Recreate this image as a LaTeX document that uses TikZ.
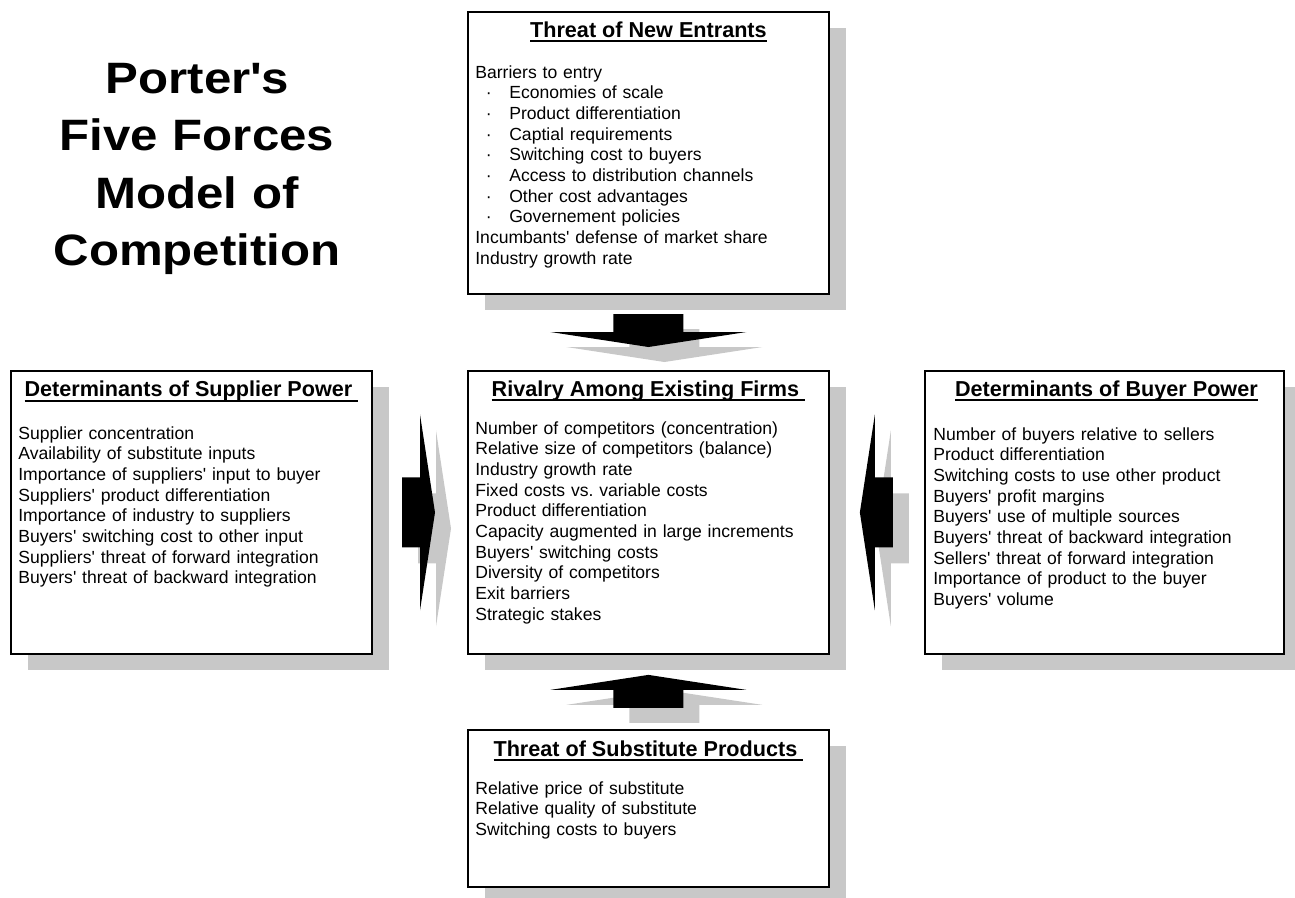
\documentclass[tikz,border=0pt]{standalone}
\usepackage{fontspec}
\setmainfont{Liberation Sans}
\newfontfamily\titlefont[FakeStretch=1.12]{Liberation Sans Bold}
\usetikzlibrary{calc,shadows}
\definecolor{shadowgray}{RGB}{200,200,200}
\frenchspacing
\newcommand{\headline}[1]{\setbox0\hbox{#1}\rlap{\rule[-3pt]{\wd0}{1.1pt}}\box0}
\newcommand{\itm}[1]{\hspace*{6pt}\textperiodcentered\hspace*{10pt}#1}
\newcommand{\prm}{\textquotesingle}
\tikzset{
  box/.style={draw, line width=1.1pt, fill=white, inner sep=0pt, anchor=north west,
    minimum width=7.22cm,
    drop shadow={shadow xshift=9.6pt, shadow yshift=-9.1pt, fill=shadowgray, opacity=1}},
  head/.style={anchor=base, inner sep=0pt, font=\fontsize{12.3}{14}\selectfont\bfseries},
  body/.style={anchor=north west, inner sep=0pt, text width=6.9cm, align=left,
    font=\fontsize{10}{11.76}\selectfont},
  force/.pic={
    \fill (0,0) -- (-98,-15) -- (-35,-15) -- (-35,-33) -- (35,-33) -- (35,-15) -- (98,-15) -- cycle;
  }
}

\begin{document}
\begin{tikzpicture}[x=0.02cm, y=-0.02cm]
  \useasboundingbox (0,0) rectangle (1295,897);

  % title
  \node[anchor=north, inner sep=0pt, text width=7cm, align=center,
        font=\titlefont\fontsize{25}{32.65}\selectfont] (ttl) at (197,53)
    {\strut Porter\prm s\\Five Forces\\Model of\\Competition};

  % the five boxes
  \node[box, minimum height=5.64cm] (ent) at (467,11) {};
  \node[box, minimum height=5.66cm] (sup) at (10,370) {};
  \node[box, minimum height=5.66cm] (riv) at (467,370) {};
  \node[box, minimum height=5.66cm, minimum width=7.18cm] (buy) at (924,370) {};
  \node[box, minimum height=3.14cm] (sub) at (467,729) {};

  % headings
  \node[head] (ent-h) at ($(ent.north)+(0,26)$) {\headline{Threat of New Entrants}};
  \node[head] (sup-h) at ($(sup.north)+(0,26.5)$) {\headline{Determinants of Supplier Power\ }};
  \node[head] (riv-h) at ($(riv.north)+(0,26)$) {\headline{Rivalry Among Existing Firms\ }};
  \node[head] (buy-h) at ($(buy.north)+(2,26)$) {\headline{Determinants of Buyer Power}};
  \node[head] (sub-h) at ($(sub.north)+(0,27)$) {\headline{Threat of Substitute Products\ }};

  % lists
  \node[body] (ent-b) at ($(ent.north west)+(8,52.5)$) {\strut Barriers to entry\\
    \itm{Economies of scale}\\
    \itm{Product differentiation}\\
    \itm{Captial requirements}\\
    \itm{Switching cost to buyers}\\
    \itm{Access to distribution channels}\\
    \itm{Other cost advantages}\\
    \itm{Governement policies}\\
    Incumbants\prm\ defense of market share\\
    Industry growth rate};
  \node[body] (sup-b) at ($(sup.north west)+(8,54.4)$) {\strut Supplier concentration\\
    Availability of substitute inputs\\
    Importance of suppliers\prm\ input to buyer\\
    Suppliers\prm\ product differentiation\\
    Importance of industry to suppliers\\
    Buyers\prm\ switching cost to other input\\
    Suppliers\prm\ threat of forward integration\\
    Buyers\prm\ threat of backward integration};
  \node[body] (riv-b) at ($(riv.north west)+(8,49.4)$) {\strut Number of competitors (concentration)\\
    Relative size of competitors (balance)\\
    Industry growth rate\\
    Fixed costs vs. variable costs\\
    Product differentiation\\
    Capacity augmented in large increments\\
    Buyers\prm\ switching costs\\
    Diversity of competitors\\
    Exit barriers\\
    Strategic stakes};
  \node[body] (buy-b) at ($(buy.north west)+(9,55.4)$) {\strut Number of buyers relative to sellers\\
    Product differentiation\\
    Switching costs to use other product\\
    Buyers\prm\ profit margins\\
    Buyers\prm\ use of multiple sources\\
    Buyers\prm\ threat of backward integration\\
    Sellers\prm\ threat of forward integration\\
    Importance of product to the buyer\\
    Buyers\prm\ volume};
  \node[body] (sub-b) at ($(sub.north west)+(8,50.4)$) {\strut Relative price of substitute\\
    Relative quality of substitute\\
    Switching costs to buyers};

  % force arrows into the rivalry box, shadows first
  \pic[shadowgray] at ($(riv.north)+(16,-8)$) {force};
  \pic[shadowgray, rotate=180] at ($(riv.south)+(16,35)$) {force};
  \pic[shadowgray, rotate=90] at ($(riv.west)+(-16,16)$) {force};
  \pic[shadowgray, rotate=-90] at ($(riv.east)+(46,16)$) {force};
  \pic at ($(riv.north)+(0,-23)$) {force};
  \pic[rotate=180] at ($(riv.south)+(0,20)$) {force};
  \pic[rotate=90] at ($(riv.west)+(-32,0)$) {force};
  \pic[rotate=-90] at ($(riv.east)+(30,0)$) {force};
\end{tikzpicture}
\end{document}
